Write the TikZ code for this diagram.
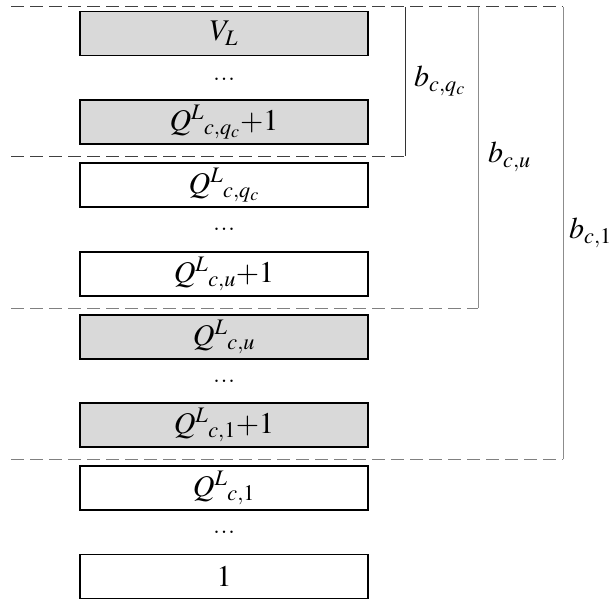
\documentclass[tikz,border=0pt]{standalone}
\usepackage{mathptmx}
\usepackage{tikz}
\usetikzlibrary{positioning}
\newcommand{\bigtxt}{\fontsize{30}{36}\selectfont}
\tikzset{
  slot/.style    ={draw, line width=1.4pt, minimum width=288pt,
                   minimum height=44pt, inner sep=0pt, font=\bigtxt},
  slotgray/.style={slot, fill=black!15},
  ellip/.style   ={anchor=base, inner sep=0pt, font=\bigtxt},
  cut/.style     ={dash pattern=on 13pt off 6pt, line width=1pt},
  brk/.style     ={line width=1pt},
  blbl/.style    ={anchor=west, inner sep=0pt, font=\bigtxt},
}

\begin{document}
\begin{tikzpicture}[x=1pt, y=-1pt]
  \useasboundingbox (0,0) rectangle (610,600);
  % upper group
  \node[slotgray] (vl) at (224,33.5) {$V_L$};
  \node[ellip] (d1) at (224,80) {...};
  \node[slotgray] (qq1) at (224,122) {$Q^{L}{}_{c,q_c}{+}1$};
  % second group
  \node[slot] (qq) at (224,185) {$Q^{L}{}_{c,q_c}$};
  \node[ellip] (d2) at (224,230) {...};
  \node[slot] (qu1) at (224,274) {$Q^{L}{}_{c,u}{+}1$};
  % third group
  \node[slotgray] (qu) at (224,337) {$Q^{L}{}_{c,u}$};
  \node[ellip] (d3) at (224,382) {...};
  \node[slotgray] (q11) at (224,425) {$Q^{L}{}_{c,1}{+}1$};
  % lowest group
  \node[slot] (q1) at (224,488) {$Q^{L}{}_{c,1}$};
  \node[ellip] (d4) at (224,533) {...};
  \node[slot] (one) at (224,576.5) {$1$};
  % brackets
  \coordinate (top) at (11,6.5);
  \coordinate (cq) at (405,6.5);
  \coordinate (cu) at (478,6.5);
  \coordinate (c1) at (563,6.5);
  \coordinate (lq) at (11,156);
  \coordinate (rq) at (405,156);
  \coordinate (lu) at (11,308);
  \coordinate (ru) at (478,308);
  \coordinate (l1) at (11,459);
  \coordinate (r1) at (563,459);
  \draw[cut, draw=black!75] (top) -- (c1);
  \draw[cut, draw=black!75] (lq) -- (rq);
  \draw[brk, draw=black!80] (rq) -- (cq);
  \draw[cut, draw=black!50] (lu) -- (ru);
  \draw[brk, draw=black!45] (ru) -- (cu);
  \draw[cut, draw=black!50] (l1) -- (r1);
  \draw[brk, draw=black!45] (r1) -- (c1);
  \node[blbl] (bq) at (414,81) {$b_{c,q_c}$};
  \node[blbl] (bu) at (488,157) {$b_{c,u}$};
  \node[blbl] (b1) at (569,233) {$b_{c,1}$};
\end{tikzpicture}
\end{document}
